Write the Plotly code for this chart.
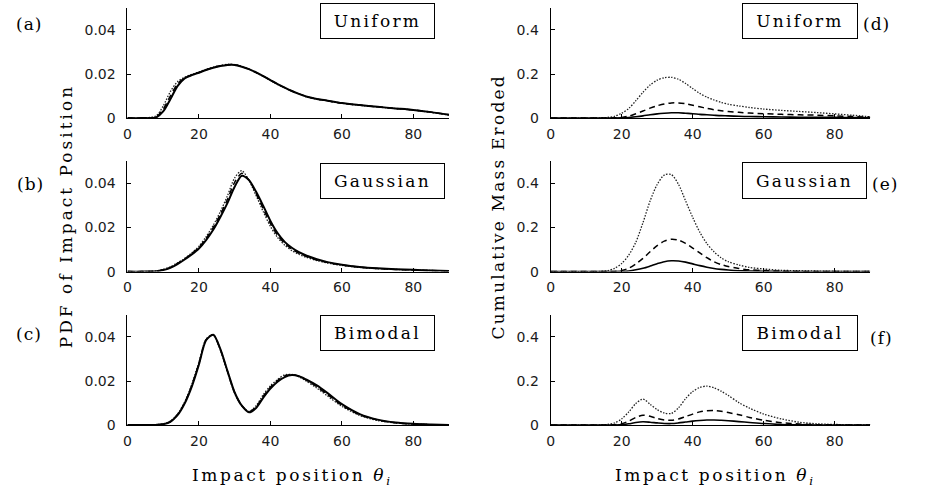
import plotly.graph_objects as go

# Figure size in pixels
W, H = 929, 502

# Impact position grid (degrees)
THETA = [0, 4, 8, 10, 12, 14, 16, 18, 20, 22, 24, 26, 28, 30, 32, 34, 36, 38,
         40, 42, 44, 46, 48, 50, 53, 56, 60, 65, 70, 75, 80, 85, 90]

# PDF of impact position -- uniform inflow
pdf_uniform_solid = [0, 0, 0.0003, 0.0030, 0.0085, 0.0145, 0.0180, 0.0195, 0.0206, 0.0218, 0.0228,
                     0.0236, 0.0241, 0.0241, 0.0233, 0.0222, 0.0207, 0.0190, 0.0172, 0.0154, 0.0138,
                     0.0123, 0.0110, 0.0098, 0.0087, 0.0079, 0.0068, 0.0059, 0.0051, 0.0044, 0.0037,
                     0.0027, 0.0015]
pdf_uniform_dashed = [0, 0, 0.0005, 0.0040, 0.0100, 0.0155, 0.0182, 0.0196, 0.0207, 0.0219, 0.0229,
                      0.0237, 0.0242, 0.0242, 0.0234, 0.0222, 0.0207, 0.0190, 0.0172, 0.0154, 0.0138,
                      0.0123, 0.0110, 0.0098, 0.0087, 0.0079, 0.0068, 0.0059, 0.0051, 0.0044, 0.0037,
                      0.0027, 0.0015]
pdf_uniform_dotted = [0, 0, 0.0010, 0.0055, 0.0120, 0.0165, 0.0185, 0.0198, 0.0209, 0.0221, 0.0231,
                      0.0239, 0.0244, 0.0243, 0.0234, 0.0221, 0.0206, 0.0189, 0.0171, 0.0153, 0.0137,
                      0.0122, 0.0109, 0.0097, 0.0086, 0.0078, 0.0067, 0.0058, 0.0050, 0.0043, 0.0036,
                      0.0026, 0.0014]

# PDF of impact position -- Gaussian inflow
pdf_gauss_solid = [0, 0, 0.0002, 0.0007, 0.0017, 0.0034, 0.0055, 0.0078, 0.0105, 0.0143, 0.0190,
                   0.0248, 0.0312, 0.0385, 0.0435, 0.0415, 0.0362, 0.0298, 0.0230, 0.0175, 0.0135,
                   0.0108, 0.0088, 0.0073, 0.0056, 0.0043, 0.0031, 0.0021, 0.0015, 0.0011, 0.0008,
                   0.0005, 0.0003]
pdf_gauss_dashed = [0, 0, 0.0002, 0.0008, 0.0019, 0.0037, 0.0058, 0.0082, 0.0110, 0.0150, 0.0200,
                    0.0260, 0.0328, 0.0405, 0.0446, 0.0416, 0.0353, 0.0285, 0.0218, 0.0165, 0.0128,
                    0.0102, 0.0083, 0.0069, 0.0053, 0.0041, 0.0030, 0.0020, 0.0014, 0.0010, 0.0007,
                    0.0005, 0.0003]
pdf_gauss_dotted = [0, 0, 0.0003, 0.0010, 0.0022, 0.0040, 0.0060, 0.0085, 0.0115, 0.0158, 0.0210,
                    0.0272, 0.0345, 0.0425, 0.0458, 0.0413, 0.0345, 0.0272, 0.0205, 0.0155, 0.0120,
                    0.0095, 0.0078, 0.0065, 0.0050, 0.0039, 0.0028, 0.0019, 0.0013, 0.0010, 0.0007,
                    0.0005, 0.0003]

# PDF of impact position -- bimodal inflow
pdf_bimodal_solid = [0, 0, 0.0001, 0.0004, 0.0015, 0.0045, 0.0098, 0.0175, 0.0275, 0.0385, 0.0410,
                     0.0345, 0.0245, 0.0148, 0.0088, 0.0058, 0.0078, 0.0125, 0.0166, 0.0197, 0.0218,
                     0.0227, 0.0222, 0.0207, 0.0180, 0.0145, 0.0095, 0.0050, 0.0025, 0.0012, 0.0006,
                     0.0003, 0.0001]
pdf_bimodal_dashed = [0, 0, 0.0001, 0.0005, 0.0016, 0.0047, 0.0101, 0.0180, 0.0280, 0.0387, 0.0410,
                      0.0343, 0.0243, 0.0147, 0.0088, 0.0060, 0.0083, 0.0131, 0.0172, 0.0202, 0.0223,
                      0.0229, 0.0221, 0.0204, 0.0174, 0.0139, 0.0090, 0.0047, 0.0023, 0.0011, 0.0005,
                      0.0002, 0.0001]
pdf_bimodal_dotted = [0, 0, 0.0002, 0.0006, 0.0018, 0.0050, 0.0105, 0.0185, 0.0285, 0.0390, 0.0410,
                      0.0340, 0.0240, 0.0145, 0.0088, 0.0062, 0.0088, 0.0138, 0.0178, 0.0207, 0.0228,
                      0.0230, 0.0219, 0.0200, 0.0168, 0.0132, 0.0085, 0.0044, 0.0021, 0.0010, 0.0005,
                      0.0002, 0.0001]

# Cumulative mass eroded -- uniform inflow
mass_uniform_solid = [0, 0, 0, 0, 0, 0, 0.0001, 0.0003, 0.001, 0.003, 0.006, 0.010, 0.015, 0.019,
                      0.022, 0.024, 0.024, 0.022, 0.020, 0.017, 0.015, 0.013, 0.011, 0.010, 0.008,
                      0.007, 0.006, 0.005, 0.004, 0.0035, 0.003, 0.002, 0.001]
mass_uniform_dashed = [0, 0, 0, 0, 0, 0.0002, 0.0005, 0.001, 0.003, 0.009, 0.020, 0.032, 0.045, 0.056,
                       0.064, 0.069, 0.069, 0.065, 0.058, 0.051, 0.044, 0.038, 0.033, 0.030, 0.026,
                       0.023, 0.020, 0.017, 0.015, 0.013, 0.010, 0.007, 0.004]
mass_uniform_dotted = [0, 0, 0, 0, 0.0005, 0.001, 0.003, 0.008, 0.022, 0.044, 0.079, 0.117, 0.150,
                       0.172, 0.183, 0.185, 0.176, 0.157, 0.134, 0.112, 0.095, 0.082, 0.071, 0.063,
                       0.055, 0.048, 0.041, 0.035, 0.030, 0.025, 0.019, 0.013, 0.006]

# Cumulative mass eroded -- Gaussian inflow
mass_gauss_solid = [0, 0, 0, 0, 0, 0, 0, 0.0002, 0.001, 0.003, 0.008, 0.015, 0.025, 0.036, 0.045,
                    0.049, 0.048, 0.043, 0.035, 0.027, 0.020, 0.014, 0.010, 0.007, 0.004, 0.003,
                    0.0015, 0.0006, 0.0003, 0.0001, 0, 0, 0]
mass_gauss_dashed = [0, 0, 0, 0, 0, 0, 0.0002, 0.001, 0.005, 0.015, 0.035, 0.060, 0.090, 0.118, 0.138,
                     0.147, 0.143, 0.128, 0.107, 0.085, 0.063, 0.045, 0.032, 0.023, 0.014, 0.008,
                     0.005, 0.002, 0.001, 0.0005, 0.0003, 0.0002, 0.0001]
mass_gauss_dotted = [0, 0, 0, 0, 0, 0.001, 0.004, 0.015, 0.037, 0.075, 0.134, 0.222, 0.320, 0.395,
                     0.438, 0.440, 0.396, 0.321, 0.246, 0.179, 0.127, 0.090, 0.063, 0.045, 0.030,
                     0.019, 0.012, 0.006, 0.004, 0.0025, 0.0015, 0.001, 0.0005]

# Cumulative mass eroded -- bimodal inflow
mass_bimodal_solid = [0, 0, 0, 0, 0, 0, 0, 0.0007, 0.002, 0.006, 0.012, 0.015, 0.013, 0.010, 0.0075,
                      0.007, 0.010, 0.014, 0.018, 0.021, 0.023, 0.0235, 0.022, 0.020, 0.016, 0.012,
                      0.007, 0.003, 0.0015, 0.0006, 0.0003, 0.0001, 0]
mass_bimodal_dashed = [0, 0, 0, 0, 0, 0, 0.001, 0.002, 0.006, 0.018, 0.035, 0.045, 0.040, 0.030, 0.023,
                       0.022, 0.028, 0.039, 0.050, 0.060, 0.065, 0.066, 0.063, 0.057, 0.047, 0.035,
                       0.022, 0.011, 0.005, 0.002, 0.001, 0.0005, 0.0002]
mass_bimodal_dotted = [0, 0, 0, 0, 0, 0.001, 0.003, 0.010, 0.028, 0.060, 0.098, 0.118, 0.095, 0.070,
                       0.055, 0.053, 0.078, 0.120, 0.152, 0.171, 0.177, 0.169, 0.154, 0.135, 0.102,
                       0.077, 0.050, 0.028, 0.013, 0.006, 0.003, 0.0015, 0.001]

# Axis ticks
X_TICKS = [0, 20, 40, 60, 80]
PDF_TICKS = [0, 0.02, 0.04]
PDF_TICK_TEXT = ["0", "0.02", "0.04"]
MASS_TICKS = [0, 0.2, 0.4]
MASS_TICK_TEXT = ["0", "0.2", "0.4"]

CASES = ["Uniform", "Gaussian", "Bimodal"]
LEFT_TAGS = ["(a)", "(b)", "(c)"]
RIGHT_TAGS = ["(d)", "(e)", "(f)"]

SERIF = "DejaVu Serif"
SANS = "DejaVu Sans"

left_series = [
    (pdf_uniform_solid, pdf_uniform_dashed, pdf_uniform_dotted),
    (pdf_gauss_solid, pdf_gauss_dashed, pdf_gauss_dotted),
    (pdf_bimodal_solid, pdf_bimodal_dashed, pdf_bimodal_dotted),
]
right_series = [
    (mass_uniform_solid, mass_uniform_dashed, mass_uniform_dotted),
    (mass_gauss_solid, mass_gauss_dashed, mass_gauss_dotted),
    (mass_bimodal_solid, mass_bimodal_dashed, mass_bimodal_dotted),
]


def px_x(x):
    return x / W


def px_y(y):
    return 1 - y / H


def spaced(text, ls):
    return f'<span style="letter-spacing:{ls}px">{text}</span>'


# Panel geometry in pixels: plot area left/right per column, top/bottom per row
COL_X = [(124, 447), (549, 870)]
ROW_Y = [(8, 120), (164, 276), (320, 432)]

fig = go.Figure()


def add_panel(idx, series, col, row, ymax, tickvals, ticktext, linew):
    xa = "x" if idx == 1 else f"x{idx}"
    ya = "y" if idx == 1 else f"y{idx}"
    solid, dashed, dotted = series
    styles = [
        (dotted, dict(color="#222222", width=1.3, dash="1.5px,1.5px")),
        (dashed, dict(color="black", width=1.5, dash="6px,4px")),
        (solid, dict(color="black", width=linew)),
    ]
    for ys, line in styles:
        fig.add_trace(go.Scatter(
            x=THETA, y=ys, mode="lines", line=dict(shape="spline", smoothing=0.8, **line),
            xaxis=xa, yaxis=ya, showlegend=False, hoverinfo="skip",
        ))
    x0, x1 = COL_X[col]
    t, b = ROW_Y[row]
    common = dict(
        showline=True, linecolor="black", linewidth=1, showgrid=False, zeroline=False,
        ticks="inside", ticklen=4, tickcolor="black", tickwidth=1,
        tickfont=dict(family=SANS, size=14, color="#1a1a1a"),
    )
    key = "" if idx == 1 else str(idx)
    fig.layout["xaxis" + key] = dict(
        domain=[px_x(x0), px_x(x1)], anchor=ya, range=[0, 90],
        tickvals=X_TICKS, ticklabelstandoff=3, **common,
    )
    fig.layout["yaxis" + key] = dict(
        domain=[px_y(b), px_y(t)], anchor=xa, range=[0, ymax],
        tickvals=tickvals, ticktext=ticktext, ticklabelstandoff=8, **common,
    )


for r in range(3):
    add_panel(r + 1, left_series[r], 0, r, 0.05, PDF_TICKS, PDF_TICK_TEXT, 2.0)
    add_panel(r + 4, right_series[r], 1, r, 0.5, MASS_TICKS, MASS_TICK_TEXT, 1.6)

annotations = []

# Boxed inflow labels: (left px, top px, width px, height px)
BOXES_LEFT = [(317, 3, 115, 36), (317, 166, 125, 36), (317, 320, 115, 36)]
BOXES_RIGHT = [(741, 3, 116, 36), (741, 165, 125, 37), (741, 320, 116, 36)]
for r, name in enumerate(CASES):
    for (bx, by, bw, bh) in (BOXES_LEFT[r], BOXES_RIGHT[r]):
        annotations.append(dict(
            text=spaced(name, 2.3), xref="paper", yref="paper",
            x=px_x(bx), y=px_y(by), xanchor="left", yanchor="top",
            width=bw - 2, height=bh - 2, showarrow=False,
            bordercolor="black", borderwidth=1, borderpad=0, bgcolor="white",
            font=dict(family=SERIF, size=17, color="black"),
        ))

# Panel tags
TAG_POS_LEFT = [(25, 24), (27, 187), (25, 339)]
TAG_POS_RIGHT = [(876, 24), (885, 187), (881, 343)]
for tags, pos in ((LEFT_TAGS, TAG_POS_LEFT), (RIGHT_TAGS, TAG_POS_RIGHT)):
    for tag, (tx, ty) in zip(tags, pos):
        annotations.append(dict(
            text=spaced(tag, 1), xref="paper", yref="paper", x=px_x(tx), y=px_y(ty),
            xanchor="center", yanchor="middle", showarrow=False,
            font=dict(family=SERIF, size=17, color="black"),
        ))

# Axis titles
xtitle = spaced("Impact position <i>θ</i><sub><i>i</i></sub>", 2.6)
for cx in (290, 715):
    annotations.append(dict(
        text=xtitle, xref="paper", yref="paper", x=px_x(cx), y=px_y(484),
        xanchor="center", yanchor="middle", showarrow=False,
        font=dict(family=SERIF, size=17, color="black"),
    ))
annotations.append(dict(
    text=spaced("PDF of Impact Position", 3.0), xref="paper", yref="paper",
    x=px_x(63), y=px_y(220), xanchor="center", yanchor="middle", textangle=-90,
    showarrow=False, font=dict(family=SERIF, size=17, color="black"),
))
annotations.append(dict(
    text=spaced("Cumulative Mass Eroded", 2.2), xref="paper", yref="paper",
    x=px_x(496), y=px_y(210), xanchor="center", yanchor="middle", textangle=-90,
    showarrow=False, font=dict(family=SERIF, size=17, color="black"),
))

fig.update_layout(
    width=W, height=H, margin=dict(l=0, r=0, t=0, b=0),
    paper_bgcolor="white", plot_bgcolor="white",
    annotations=annotations, showlegend=False,
)

fig.write_html("out.html")
